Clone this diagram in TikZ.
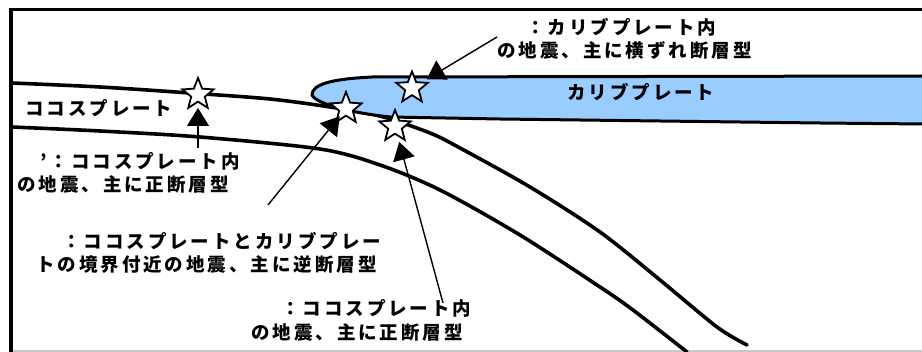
\documentclass[tikz,border=0pt]{standalone}
\usepackage{fontspec}
\newfontfamily\jpfont[LetterSpace=16]{Noto Sans CJK JP}
\usetikzlibrary{shapes.geometric,arrows.meta,calc}
\definecolor{caribblue}{RGB}{153,204,255}
\definecolor{edgegray}{RGB}{200,200,200}
\begin{document}
\begin{tikzpicture}[x=1pt,y=-1pt,
  txt/.style={inner sep=0pt, anchor=west, font=\jpfont\bfseries\fontsize{18.5}{22}\selectfont},
  quake/.style={star, star points=5, star point ratio=2.3, minimum size=33pt,
                inner sep=0pt, draw, fill=white, line width=1.8pt},
  pointer/.style={line width=1.4pt, -{Triangle[length=18pt,width=22pt]}},
  slab/.style={line width=3.6pt, line cap=round},
  plateedge/.style={line width=3pt, line join=round},
]
\useasboundingbox (0,0) rectangle (922,352);
\fill[white] (0,0) rectangle (922,352);

% frame
\draw[line width=4pt] (10.5,352) -- (10.5,9.5);
\draw[line width=3.5pt] (8.5,9.5) -- (922,9.5);
\draw[edgegray, line width=1.5pt] (12.5,351) -- (922,351);

% Cocos plate (subducting slab)
\draw[slab] plot[smooth] coordinates {(12,83) (100,87) (190,93) (270,99) (330,107)
  (380,116) (430,133) (460,148) (530,187) (600,232) (660,280) (717,327) (747,345)};
\draw[slab] plot[smooth] coordinates {(12,127) (100,131) (200,137) (320,149) (380,165)
  (440,190) (520,235) (600,287) (633,310) (687,352)};

% Caribbean plate
\fill[caribblue] (312,95) .. controls (312,84) and (332,79) .. (372,77) -- (922,76)
  -- (922,124) -- (820,123) -- (500,119) -- (390,117)
  .. controls (352,113) and (316,104) .. cycle;
\draw[plateedge] (924,76) -- (372,77) .. controls (332,79) and (312,84) .. (312,95)
  .. controls (316,104) and (352,113) .. (390,117) -- (500,119) -- (820,123) -- (924,124);

% plate names
\node[txt] (cocos) at (25,108) {ココスプレート};
\node[txt] (carib) at (567,92) {カリブプレート};

% earthquakes
\node[quake] (s1) at (198,94.5) {};
\node[quake] (s2) at (346,108.5) {};
\node[quake] (s3) at (412,88) {};
\node[quake] (s4) at (395,126.5) {};

% captions
\node[txt] (la1) at (526,27) {：カリブプレート内};
\node[txt] (la2) at (497,50) {の地震、主に横ずれ断層型};
\node[txt] (lb1) at (40,161) {’：ココスプレート内};
\node[txt] (lb2) at (17,184) {の地震、主に正断層型};
\node[txt] (lc1) at (62,241) {：ココスプレートとカリブプレー};
\node[txt] (lc2) at (36,264) {トの境界付近の地震、主に逆断層型};
\node[txt] (ld1) at (281,308) {：ココスプレート内};
\node[txt] (ld2) at (251,332) {の地震、主に正断層型};

% pointers
\coordinate (ta) at (497,37);
\coordinate (tb) at (198,148);
\coordinate (tc) at (268,205);
\coordinate (td) at (443,303);
\draw[pointer, shorten >=17pt] (ta) -- (s3.center);
\draw[pointer, shorten >=13.5pt] (tb) -- (s1.center);
\draw[pointer, shorten >=10pt] (tc) -- (s2.center);
\draw[pointer, shorten >=16pt] (td) -- (s4.center);
\end{tikzpicture}
\end{document}
